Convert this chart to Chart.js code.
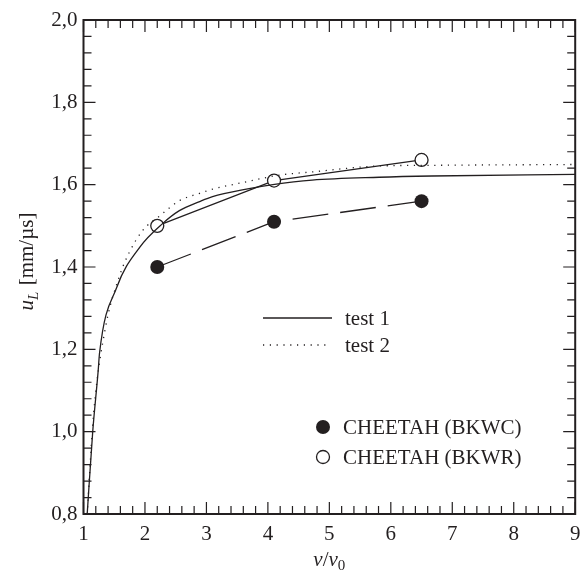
<!DOCTYPE html>
<html>
<head>
<meta charset="utf-8">
<script src="https://cdn.jsdelivr.net/npm/chart.js@4.4.1/dist/chart.umd.min.js"></script>
<style>
  html, body { margin: 0; padding: 0; background: #fff; }
  #wrap { width: 583px; height: 573px; }
</style>
</head>
<body>
<div id="wrap"><canvas id="chart"></canvas></div>
<script>
// values (x = v/v0, y = uL in mm/us)
const test1X = [1.06, 1.15, 1.24, 1.26, 1.54, 1.92, 2.29, 2.56, 2.89, 3.10, 3.65, 4.08, 4.72, 5.81, 6.67, 9.0];
const test1Y = [0.80, 1.00, 1.15, 1.19, 1.35, 1.449, 1.506, 1.537, 1.559, 1.571, 1.589, 1.600, 1.611, 1.618, 1.621, 1.625];

const test2X = [1.06, 1.16, 1.35, 1.59, 1.75, 1.97, 2.24, 2.56, 2.89, 3.10, 3.65, 4.18, 4.72, 5.75, 6.67, 9.0];
const test2Y = [0.80, 1.036, 1.247, 1.38, 1.437, 1.49, 1.524, 1.561, 1.579, 1.589, 1.607, 1.623, 1.631, 1.645, 1.647, 1.649];

const cheetahX = [2.2, 4.1, 6.5];
const bkwcY = [1.40, 1.51, 1.56];
const bkwrY = [1.50, 1.61, 1.66];

const xTicks = [1, 2, 3, 4, 5, 6, 7, 8, 9];
const yTicks = ['0,8', '1,0', '1,2', '1,4', '1,6', '1,8', '2,0'];

const ink = '#231f20';
const serif = "'Liberation Serif', 'DejaVu Serif', serif";

function pts(xs, ys) {
  return xs.map((x, i) => ({ x: x, y: ys[i] }));
}

// frame, inward ticks on all four sides, axis titles, legend
const decor = {
  id: 'decor',
  afterDraw(chart) {
    const c = chart.ctx;
    const a = chart.chartArea;
    const xs = chart.scales.x, ys = chart.scales.y;
    c.save();
    c.strokeStyle = ink;
    c.lineWidth = 1.2;
    c.beginPath();
    for (let i = 0; i <= 40; i++) {
      const v = 1 + i * 0.2;
      const px = xs.getPixelForValue(v);
      const len = i % 5 === 0 ? 12 : 8;
      c.moveTo(px, a.bottom); c.lineTo(px, a.bottom - len);
      c.moveTo(px, a.top); c.lineTo(px, a.top + len);
    }
    for (let i = 0; i <= 30; i++) {
      const v = 0.8 + i * 0.04;
      const py = ys.getPixelForValue(v);
      const len = i % 5 === 0 ? 12 : 8;
      c.moveTo(a.left, py); c.lineTo(a.left + len, py);
      c.moveTo(a.right, py); c.lineTo(a.right - len, py);
    }
    c.stroke();
    c.lineWidth = 2;
    c.strokeRect(a.left, a.top, a.right - a.left, a.bottom - a.top);

    c.fillStyle = ink;
    // y title
    c.save();
    c.translate(26, (a.top + a.bottom) / 2 - 5);
    c.rotate(-Math.PI / 2);
    c.textBaseline = 'alphabetic';
    const t1 = 'u', t2 = 'L', t3 = ' [mm/\u00b5s]';
    c.font = 'italic 21px ' + serif;
    const w1 = c.measureText(t1).width;
    c.font = 'italic 15px ' + serif;
    const w2 = c.measureText(t2).width;
    c.font = '21px ' + serif;
    const w3 = c.measureText(t3).width;
    let x0 = -(w1 + w2 + w3) / 2;
    c.font = 'italic 21px ' + serif;
    c.fillText(t1, x0, 7);
    c.font = 'italic 15px ' + serif;
    c.fillText(t2, x0 + w1, 12);
    c.font = '21px ' + serif;
    c.fillText(t3, x0 + w1 + w2 + 1, 7);
    c.restore();

    // x title
    const cx = (a.left + a.right) / 2;
    const by = 566;
    c.font = 'italic 21px ' + serif;
    const n1 = c.measureText('\u03bd').width;
    c.font = '21px ' + serif;
    const sl = c.measureText('/').width;
    c.font = '15px ' + serif;
    const z = c.measureText('0').width;
    let xx = cx - (n1 * 2 + sl + z) / 2;
    c.font = 'italic 21px ' + serif;
    c.fillText('\u03bd', xx, by); xx += n1;
    c.font = '21px ' + serif;
    c.fillText('/', xx, by); xx += sl;
    c.font = 'italic 21px ' + serif;
    c.fillText('\u03bd', xx, by); xx += n1;
    c.font = '15px ' + serif;
    c.fillText('0', xx, by + 4);

    // legend
    c.font = '21px ' + serif;
    c.textBaseline = 'middle';
    c.lineWidth = 1.3;
    c.beginPath();
    c.moveTo(263, 318); c.lineTo(332, 318);
    c.stroke();
    c.setLineDash([1.2, 5.6]);
    c.beginPath();
    c.moveTo(263, 345); c.lineTo(330, 345);
    c.stroke();
    c.setLineDash([]);
    c.fillText('test 1', 345, 319);
    c.fillText('test 2', 345, 346);
    c.beginPath();
    c.arc(323, 427, 7, 0, Math.PI * 2);
    c.fill();
    c.beginPath();
    c.arc(323, 457, 6.5, 0, Math.PI * 2);
    c.lineWidth = 1.3;
    c.stroke();
    c.fillText('CHEETAH (BKWC)', 343, 428);
    c.fillText('CHEETAH (BKWR)', 343, 458);
    c.restore();
  }
};

new Chart(document.getElementById('chart'), {
  type: 'scatter',
  data: {
    datasets: [
      {
        label: 'test 1',
        data: pts(test1X, test1Y),
        showLine: true,
        borderColor: ink,
        borderWidth: 1.3,
        pointRadius: 0,
        cubicInterpolationMode: 'monotone'
      },
      {
        label: 'test 2',
        data: pts(test2X, test2Y),
        showLine: true,
        borderColor: ink,
        borderWidth: 1.3,
        borderDash: [1.2, 5.6],
        pointRadius: 0,
        cubicInterpolationMode: 'monotone'
      },
      {
        label: 'CHEETAH (BKWC)',
        data: pts(cheetahX, bkwcY),
        showLine: true,
        borderColor: ink,
        borderWidth: 1.3,
        borderDash: [36, 12],
        pointRadius: 7,
        pointBackgroundColor: ink,
        pointBorderColor: ink,
        pointBorderWidth: 0
      },
      {
        label: 'CHEETAH (BKWR)',
        data: pts(cheetahX, bkwrY),
        showLine: true,
        borderColor: ink,
        borderWidth: 1.3,
        pointRadius: 6.5,
        pointBackgroundColor: '#fff',
        pointBorderColor: ink,
        pointBorderWidth: 1.3
      }
    ]
  },
  options: {
    responsive: true,
    maintainAspectRatio: false,
    animation: false,
    layout: { padding: { top: 20, right: 6, left: 0, bottom: 0 } },
    plugins: {
      legend: { display: false },
      tooltip: { enabled: false }
    },
    scales: {
      x: {
        type: 'linear',
        min: 1,
        max: 9,
        afterFit: s => { s.height = 59; s.paddingRight = 0; s.paddingLeft = 0; },
        grid: { display: false, drawTicks: false },
        border: { display: false },
        afterBuildTicks: s => { s.ticks = xTicks.map(v => ({ value: v })); },
        ticks: {
          padding: 8,
          color: ink,
          font: { family: serif, size: 21 },
          maxRotation: 0,
          callback: v => String(v)
        }
      },
      y: {
        type: 'linear',
        min: 0.8,
        max: 2.0,
        afterFit: s => { s.width = 83.5; s.paddingTop = 0; s.paddingBottom = 0; },
        grid: { display: false, drawTicks: false },
        border: { display: false },
        afterBuildTicks: s => { s.ticks = yTicks.map(t => ({ value: parseFloat(t.replace(',', '.')) })); },
        ticks: {
          padding: 6,
          color: ink,
          font: { family: serif, size: 21 },
          callback: (v, i) => yTicks[i]
        }
      }
    }
  },
  plugins: [decor]
});
</script>
</body>
</html>
